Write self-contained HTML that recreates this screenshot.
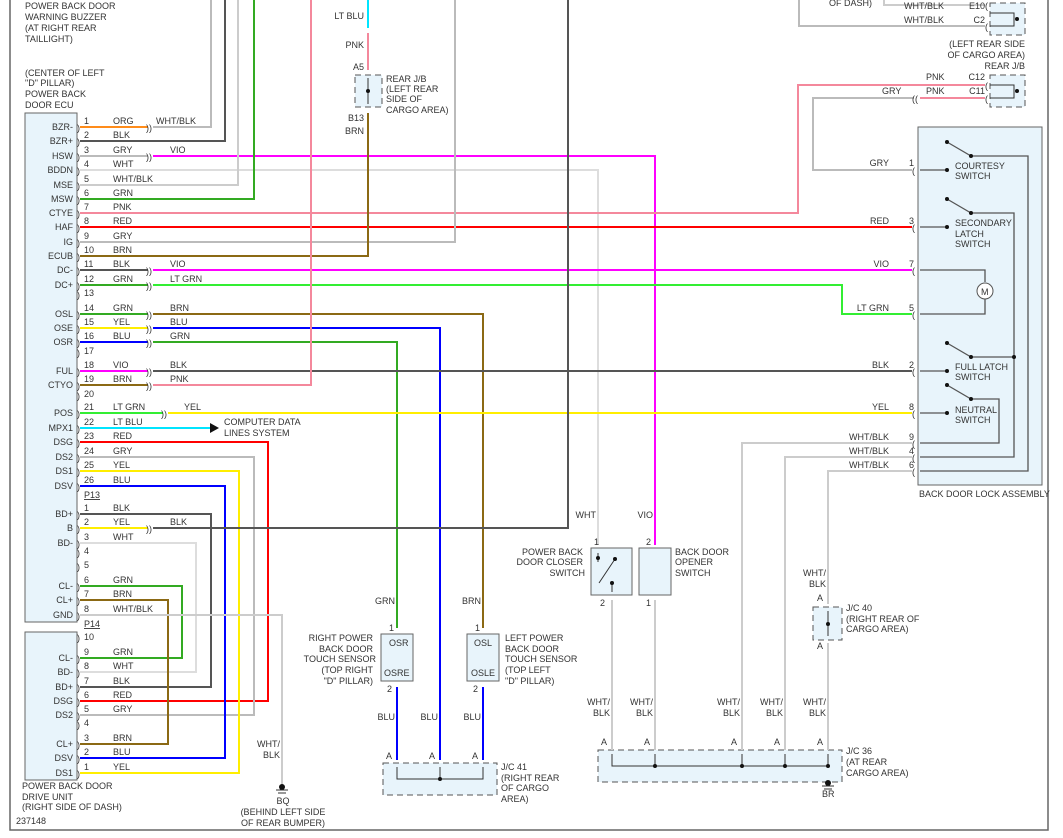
<!DOCTYPE html>
<html><head><meta charset="utf-8"><style>
html,body{margin:0;padding:0;background:#fff;width:1063px;height:838px;overflow:hidden}
svg{display:block}
text{font-family:"Liberation Sans",sans-serif;font-size:9px;fill:#333}
.w{fill:none;stroke-width:2}
</style></head><body>
<svg width="1063" height="838" viewBox="0 0 1063 838" xmlns="http://www.w3.org/2000/svg">
<!-- frame -->
<path d="M10,0 V830 H1048 V0" fill="none" stroke="#666" stroke-width="1.5"/>
<!-- boxes -->
<rect x="25" y="113" width="52" height="509" fill="#e8f4fb" stroke="#666"/>
<rect x="25" y="632" width="52" height="148" fill="#e8f4fb" stroke="#666"/>
<rect x="918" y="127" width="124" height="358" fill="#e8f4fb" stroke="#666"/>
<rect x="355" y="75" width="27" height="32" fill="#e8f4fb" stroke="#555" stroke-dasharray="6,4"/>
<rect x="990" y="3" width="35" height="32" fill="#e8f4fb" stroke="#555" stroke-dasharray="6,4"/>
<rect x="990" y="75" width="35" height="32" fill="#e8f4fb" stroke="#555" stroke-dasharray="6,4"/>
<rect x="591" y="548" width="41" height="47" fill="#e8f4fb" stroke="#666"/>
<rect x="639" y="548" width="32" height="47" fill="#e8f4fb" stroke="#666"/>
<rect x="381" y="634" width="32" height="47" fill="#e8f4fb" stroke="#666"/>
<rect x="467" y="634" width="32" height="47" fill="#e8f4fb" stroke="#666"/>
<rect x="383" y="763" width="114" height="32" fill="#e8f4fb" stroke="#555" stroke-dasharray="6,4"/>
<rect x="598" y="750" width="244" height="32" fill="#e8f4fb" stroke="#555" stroke-dasharray="6,4"/>
<rect x="813" y="607" width="29" height="33" fill="#e8f4fb" stroke="#555" stroke-dasharray="6,4"/>

<!-- wires -->
<g class="w">
<path d="M80,127 H148" stroke="#ff8c1a"/><path d="M153,127 H211 V0" stroke="#bbb"/>
<path d="M80,141 H225 V0" stroke="#555"/>
<path d="M80,156 H148" stroke="#bbb"/><path d="M153,156 H655 V545" stroke="#ff00ff"/>
<path d="M80,170 H598 V545" stroke="#ddd"/>
<path d="M80,185 H238 V0" stroke="#ccc"/>
<path d="M80,199 H254 V0" stroke="#33aa22"/>
<path d="M80,213 H798 V85 H985" stroke="#f4889c"/>
<path d="M80,227 H912" stroke="#ff0000"/>
<path d="M80,242 H455 V0" stroke="#bbb"/>
<path d="M80,256 H368 V113" stroke="#8b6914"/>
<path d="M80,270 H148" stroke="#555"/><path d="M153,270 H912" stroke="#ff00ff"/>
<path d="M80,285 H148" stroke="#33aa22"/><path d="M153,285 H842 V314 H912" stroke="#33ee33"/>
<path d="M80,314 H148" stroke="#33aa22"/><path d="M153,314 H483 V628" stroke="#8b6914"/>
<path d="M80,328 H148" stroke="#ffee00"/><path d="M153,328 H440 V760" stroke="#0000ff"/>
<path d="M80,342 H148" stroke="#0000ff"/><path d="M153,342 H397 V628" stroke="#33aa22"/>
<path d="M80,371 H148" stroke="#ff00ff"/><path d="M153,371 H912" stroke="#555"/>
<path d="M80,385 H148" stroke="#8b6914"/><path d="M153,385 H311 V0" stroke="#f4889c"/>
<path d="M80,413 H163" stroke="#33ee33"/><path d="M168,413 H912" stroke="#ffee00"/>
<path d="M80,428 H210" stroke="#00e5ff"/>
<path d="M80,442 H268 V701 H80" stroke="#ff0000"/>
<path d="M80,457 H254 V715 H80" stroke="#bbb"/>
<path d="M80,471 H239 V773 H80" stroke="#ffee00"/>
<path d="M80,486 H225 V758 H80" stroke="#0000ff"/>
<path d="M80,514 H211 V687 H80" stroke="#555"/>
<path d="M80,528 H148" stroke="#ffee00"/><path d="M153,528 H568 V0" stroke="#555"/>
<path d="M80,543 H196 V672 H80" stroke="#ddd"/>
<path d="M80,586 H182 V658 H80" stroke="#33aa22"/>
<path d="M80,600 H168 V744 H80" stroke="#8b6914"/>
<path d="M80,615 H282 V785" stroke="#ccc"/>
<path d="M368,0 V28" stroke="#00e5ff"/><path d="M368,33 V70" stroke="#f4889c"/>
<path d="M884,0 V5 H985" stroke="#ccc"/><path d="M799,0 V26 H985" stroke="#bbb"/>
<path d="M985,98 H920" stroke="#f4889c"/><path d="M914,98 H813 V170 H912" stroke="#bbb"/>
<path d="M612,600 V750" stroke="#ccc"/><path d="M655,600 V750" stroke="#ccc"/>
<path d="M912,443 H742 V750" stroke="#ccc"/>
<path d="M912,457 H785 V750" stroke="#ccc"/>
<path d="M912,471 H828 V604" stroke="#ccc"/><path d="M828,643 V750" stroke="#ccc"/>
<path d="M397,687 V760" stroke="#0000ff"/><path d="M483,687 V760" stroke="#0000ff"/>
</g>
<polygon points="210,423 219,428 210,433" fill="#111"/>

<!-- internals -->
<g fill="none" stroke="#333" stroke-width="1">
<path d="M368,78 V104 M990,13 H1014 V26 H990 M990,85 H1014 V98 H990"/>
<path d="M397,767 V779 H483 V767 M440,767 V779"/>
<path d="M612,754 V766 H828 V754 M655,754 V766 M742,754 V766 M785,754 V766"/>
<path d="M828,611 V636"/>
<path d="M598,553 V562 M599,583 L615,559 M612,583 V592"/>
</g>
<g fill="none" stroke="#555" stroke-width="1.3">
<path d="M920,170 H947 M947,142 L971,156 H1028 V471 H920"/>
<path d="M920,227 H947 M947,199 L971,213 H1014 V457 H920"/>
<path d="M920,371 H947 M947,343 L971,357 H1014"/>
<path d="M920,413 H947 M947,385 L971,399 H999 V443 H920"/>
<path d="M920,270 H985 V282 M985,299 V314 H920"/>
</g>
<circle cx="985" cy="291" r="8" fill="#fff" stroke="#555"/>
<text x="981" y="295">M</text>
<g fill="#111">
<circle cx="947" cy="142" r="2"/><circle cx="971" cy="156" r="2"/><circle cx="947" cy="170" r="2"/>
<circle cx="947" cy="199" r="2"/><circle cx="971" cy="213" r="2"/><circle cx="947" cy="227" r="2"/>
<circle cx="947" cy="343" r="2"/><circle cx="971" cy="357" r="2"/><circle cx="947" cy="371" r="2"/><circle cx="1014" cy="357" r="2"/>
<circle cx="947" cy="385" r="2"/><circle cx="971" cy="399" r="2"/><circle cx="947" cy="413" r="2"/>
<circle cx="368" cy="91" r="2"/><circle cx="1017" cy="19" r="2"/><circle cx="1017" cy="91" r="2"/>
<circle cx="440" cy="779" r="2"/><circle cx="655" cy="766" r="2"/><circle cx="742" cy="766" r="2"/><circle cx="785" cy="766" r="2"/><circle cx="828" cy="766" r="2"/>
<circle cx="828" cy="624" r="2"/><circle cx="598" cy="558" r="2"/><circle cx="615" cy="559" r="2"/><circle cx="612" cy="583" r="2"/>
<circle cx="828" cy="783" r="3"/><circle cx="282" cy="787" r="3"/>
</g>
<path d="M822,786 H834 M824,789 H832 M276,790 H288 M278,793 H286" stroke="#333"/>

<!-- connector marks -->
<g font-size="10">
<text x="77" y="131">)</text><text x="77" y="145">)</text><text x="77" y="160">)</text><text x="77" y="174">)</text><text x="77" y="189">)</text><text x="77" y="203">)</text><text x="77" y="217">)</text><text x="77" y="231">)</text><text x="77" y="246">)</text><text x="77" y="260">)</text><text x="77" y="274">)</text><text x="77" y="289">)</text><text x="77" y="298">)</text><text x="77" y="318">)</text><text x="77" y="332">)</text><text x="77" y="346">)</text><text x="77" y="356">)</text><text x="77" y="375">)</text><text x="77" y="389">)</text><text x="77" y="399">)</text><text x="77" y="417">)</text><text x="77" y="432">)</text><text x="77" y="446">)</text><text x="77" y="461">)</text><text x="77" y="475">)</text><text x="77" y="490">)</text><text x="77" y="518">)</text><text x="77" y="532">)</text><text x="77" y="547">)</text><text x="77" y="556">)</text><text x="77" y="570">)</text><text x="77" y="590">)</text><text x="77" y="604">)</text><text x="77" y="619">)</text>
<text x="77" y="641">)</text><text x="77" y="662">)</text><text x="77" y="676">)</text><text x="77" y="691">)</text><text x="77" y="705">)</text><text x="77" y="719">)</text><text x="77" y="728">)</text><text x="77" y="748">)</text><text x="77" y="762">)</text><text x="77" y="777">)</text>
<text x="146" y="131">))</text><text x="146" y="160">))</text><text x="146" y="274">))</text><text x="146" y="289">))</text><text x="146" y="318">))</text><text x="146" y="332">))</text><text x="146" y="346">))</text><text x="146" y="375">))</text><text x="146" y="389">))</text><text x="161" y="417">))</text><text x="146" y="532">))</text>
<text x="912" y="102">((</text>
<text x="912" y="174">(</text><text x="912" y="231">(</text><text x="912" y="274">(</text><text x="912" y="318">(</text><text x="912" y="375">(</text><text x="912" y="417">(</text><text x="912" y="447">(</text><text x="912" y="461">(</text><text x="912" y="475">(</text>
<text x="985" y="9">(</text><text x="985" y="30">(</text><text x="985" y="89">(</text><text x="985" y="102">(</text>
</g>

<!-- ECU labels -->
<g text-anchor="end">
<text x="73" y="130">BZR-</text><text x="73" y="144">BZR+</text><text x="73" y="159">HSW</text><text x="73" y="173">BDDN</text><text x="73" y="188">MSE</text><text x="73" y="202">MSW</text><text x="73" y="216">CTYE</text><text x="73" y="230">HAF</text><text x="73" y="245">IG</text><text x="73" y="259">ECUB</text><text x="73" y="273">DC-</text><text x="73" y="288">DC+</text><text x="73" y="317">OSL</text><text x="73" y="331">OSE</text><text x="73" y="345">OSR</text><text x="73" y="374">FUL</text><text x="73" y="388">CTYO</text><text x="73" y="416">POS</text><text x="73" y="431">MPX1</text><text x="73" y="445">DSG</text><text x="73" y="460">DS2</text><text x="73" y="474">DS1</text><text x="73" y="489">DSV</text><text x="73" y="517">BD+</text><text x="73" y="531">B</text><text x="73" y="546">BD-</text><text x="73" y="589">CL-</text><text x="73" y="603">CL+</text><text x="73" y="618">GND</text>
<text x="73" y="661">CL-</text><text x="73" y="675">BD-</text><text x="73" y="690">BD+</text><text x="73" y="704">DSG</text><text x="73" y="718">DS2</text><text x="73" y="747">CL+</text><text x="73" y="761">DSV</text><text x="73" y="776">DS1</text>
</g>
<!-- pin numbers -->
<g>
<text x="84" y="124">1</text><text x="84" y="138">2</text><text x="84" y="153">3</text><text x="84" y="167">4</text><text x="84" y="182">5</text><text x="84" y="196">6</text><text x="84" y="210">7</text><text x="84" y="224">8</text><text x="84" y="239">9</text><text x="84" y="253">10</text><text x="84" y="267">11</text><text x="84" y="282">12</text><text x="84" y="296">13</text><text x="84" y="311">14</text><text x="84" y="325">15</text><text x="84" y="339">16</text><text x="84" y="354">17</text><text x="84" y="368">18</text><text x="84" y="382">19</text><text x="84" y="397">20</text><text x="84" y="410">21</text><text x="84" y="425">22</text><text x="84" y="439">23</text><text x="84" y="454">24</text><text x="84" y="468">25</text><text x="84" y="483">26</text>
<text x="84" y="511">1</text><text x="84" y="525">2</text><text x="84" y="540">3</text><text x="84" y="554">4</text><text x="84" y="568">5</text><text x="84" y="583">6</text><text x="84" y="597">7</text><text x="84" y="612">8</text>
<text x="84" y="640">10</text><text x="84" y="655">9</text><text x="84" y="669">8</text><text x="84" y="684">7</text><text x="84" y="698">6</text><text x="84" y="712">5</text><text x="84" y="726">4</text><text x="84" y="741">3</text><text x="84" y="755">2</text><text x="84" y="770">1</text>
<text x="84" y="498" text-decoration="underline">P13</text><text x="84" y="627" text-decoration="underline">P14</text>
</g>
<!-- wire color labels -->
<g>
<text x="113" y="124">ORG</text><text x="156" y="124">WHT/BLK</text>
<text x="113" y="138">BLK</text>
<text x="113" y="153">GRY</text><text x="170" y="153">VIO</text>
<text x="113" y="167">WHT</text><text x="113" y="182">WHT/BLK</text><text x="113" y="196">GRN</text><text x="113" y="210">PNK</text><text x="113" y="224">RED</text><text x="113" y="239">GRY</text><text x="113" y="253">BRN</text>
<text x="113" y="267">BLK</text><text x="170" y="267">VIO</text>
<text x="113" y="282">GRN</text><text x="170" y="282">LT GRN</text>
<text x="113" y="311">GRN</text><text x="170" y="311">BRN</text>
<text x="113" y="325">YEL</text><text x="170" y="325">BLU</text>
<text x="113" y="339">BLU</text><text x="170" y="339">GRN</text>
<text x="113" y="368">VIO</text><text x="170" y="368">BLK</text>
<text x="113" y="382">BRN</text><text x="170" y="382">PNK</text>
<text x="113" y="410">LT GRN</text><text x="184" y="410">YEL</text>
<text x="113" y="425">LT BLU</text>
<text x="224" y="425">COMPUTER DATA</text><text x="224" y="436">LINES SYSTEM</text>
<text x="113" y="439">RED</text><text x="113" y="454">GRY</text><text x="113" y="468">YEL</text><text x="113" y="483">BLU</text>
<text x="113" y="511">BLK</text><text x="113" y="525">YEL</text><text x="170" y="525">BLK</text><text x="113" y="540">WHT</text>
<text x="113" y="583">GRN</text><text x="113" y="597">BRN</text><text x="113" y="612">WHT/BLK</text>
<text x="113" y="655">GRN</text><text x="113" y="669">WHT</text><text x="113" y="684">BLK</text><text x="113" y="698">RED</text><text x="113" y="712">GRY</text><text x="113" y="741">BRN</text><text x="113" y="755">BLU</text><text x="113" y="770">YEL</text>
</g>
<!-- component labels -->
<text x="25" y="9">POWER BACK DOOR</text><text x="25" y="20">WARNING BUZZER</text><text x="25" y="31">(AT RIGHT REAR</text><text x="25" y="42">TAILLIGHT)</text>
<text x="25" y="76">(CENTER OF LEFT</text><text x="25" y="86">"D" PILLAR)</text><text x="25" y="97">POWER BACK</text><text x="25" y="108">DOOR ECU</text>
<text x="22" y="789">POWER BACK DOOR</text><text x="22" y="800">DRIVE UNIT</text><text x="22" y="810">(RIGHT SIDE OF DASH)</text>
<text x="16" y="824">237148</text>
<g text-anchor="middle"><text x="283" y="804">BQ</text><text x="283" y="815">(BEHIND LEFT SIDE</text><text x="283" y="826">OF REAR BUMPER)</text></g>
<text x="364" y="19" text-anchor="end">LT BLU</text><text x="364" y="48" text-anchor="end">PNK</text>
<text x="364" y="70" text-anchor="end">A5</text><text x="364" y="121" text-anchor="end">B13</text><text x="364" y="134" text-anchor="end">BRN</text>
<text x="386" y="82">REAR J/B</text><text x="386" y="92">(LEFT REAR</text><text x="386" y="102">SIDE OF</text><text x="386" y="113">CARGO AREA)</text>
<text x="872" y="6" text-anchor="end">OF DASH)</text>
<text x="904" y="9">WHT/BLK</text><text x="904" y="23">WHT/BLK</text>
<text x="985" y="9" text-anchor="end">E10</text><text x="985" y="23" text-anchor="end">C2</text>
<g text-anchor="end"><text x="1025" y="47">(LEFT REAR SIDE</text><text x="1025" y="58">OF CARGO AREA)</text><text x="1025" y="69">REAR J/B</text></g>
<text x="926" y="80">PNK</text><text x="926" y="94">PNK</text><text x="882" y="94">GRY</text>
<text x="985" y="80" text-anchor="end">C12</text><text x="985" y="94" text-anchor="end">C11</text>
<g text-anchor="end">
<text x="889" y="166">GRY</text><text x="889" y="224">RED</text><text x="889" y="267">VIO</text><text x="889" y="311">LT GRN</text><text x="889" y="368">BLK</text><text x="889" y="410">YEL</text><text x="889" y="440">WHT/BLK</text><text x="889" y="454">WHT/BLK</text><text x="889" y="468">WHT/BLK</text>
<text x="914" y="166">1</text><text x="914" y="224">3</text><text x="914" y="267">7</text><text x="914" y="311">5</text><text x="914" y="368">2</text><text x="914" y="410">8</text><text x="914" y="440">9</text><text x="914" y="454">4</text><text x="914" y="468">6</text>
</g>
<text x="955" y="169">COURTESY</text><text x="955" y="179">SWITCH</text>
<text x="955" y="226">SECONDARY</text><text x="955" y="237">LATCH</text><text x="955" y="247">SWITCH</text>
<text x="955" y="370">FULL LATCH</text><text x="955" y="380">SWITCH</text>
<text x="955" y="413">NEUTRAL</text><text x="955" y="423">SWITCH</text>
<text x="919" y="497">BACK DOOR LOCK ASSEMBLY</text>
<text x="596" y="518" text-anchor="end">WHT</text><text x="653" y="518" text-anchor="end">VIO</text>
<text x="594" y="545">1</text><text x="646" y="545">2</text><text x="600" y="606">2</text><text x="646" y="606">1</text>
<g text-anchor="end"><text x="583" y="555">POWER BACK</text><text x="583" y="565">DOOR CLOSER</text><text x="585" y="576">SWITCH</text></g>
<text x="675" y="555">BACK DOOR</text><text x="675" y="565">OPENER</text><text x="675" y="576">SWITCH</text>
<text x="395" y="604" text-anchor="end">GRN</text><text x="481" y="604" text-anchor="end">BRN</text>
<text x="389" y="631">1</text><text x="475" y="631">1</text><text x="387" y="692">2</text><text x="473" y="692">2</text>
<text x="389" y="646">OSR</text><text x="384" y="676">OSRE</text><text x="474" y="646">OSL</text><text x="471" y="676">OSLE</text>
<g text-anchor="end"><text x="373" y="641">RIGHT POWER</text><text x="373" y="652">BACK DOOR</text><text x="376" y="662">TOUCH SENSOR</text><text x="373" y="673">(TOP RIGHT</text><text x="373" y="684">"D" PILLAR)</text></g>
<text x="505" y="641">LEFT POWER</text><text x="505" y="652">BACK DOOR</text><text x="505" y="662">TOUCH SENSOR</text><text x="505" y="673">(TOP LEFT</text><text x="505" y="684">"D" PILLAR)</text>
<text x="395" y="720" text-anchor="end">BLU</text><text x="438" y="720" text-anchor="end">BLU</text><text x="481" y="720" text-anchor="end">BLU</text>
<text x="386" y="759">A</text><text x="429" y="759">A</text><text x="472" y="759">A</text>
<text x="501" y="770">J/C 41</text><text x="501" y="781">(RIGHT REAR</text><text x="501" y="791">OF CARGO</text><text x="501" y="802">AREA)</text>
<g text-anchor="end">
<text x="610" y="705">WHT/</text><text x="610" y="716">BLK</text><text x="653" y="705">WHT/</text><text x="653" y="716">BLK</text><text x="740" y="705">WHT/</text><text x="740" y="716">BLK</text><text x="783" y="705">WHT/</text><text x="783" y="716">BLK</text><text x="826" y="705">WHT/</text><text x="826" y="716">BLK</text>
<text x="826" y="576">WHT/</text><text x="826" y="587">BLK</text>
<text x="280" y="747">WHT/</text><text x="280" y="758">BLK</text>
</g>
<text x="601" y="745">A</text><text x="644" y="745">A</text><text x="731" y="745">A</text><text x="774" y="745">A</text><text x="817" y="745">A</text>
<text x="817" y="601">A</text><text x="817" y="649">A</text>
<text x="846" y="611">J/C 40</text><text x="846" y="622">(RIGHT REAR OF</text><text x="846" y="632">CARGO AREA)</text>
<text x="846" y="754">J/C 36</text><text x="846" y="765">(AT REAR</text><text x="846" y="776">CARGO AREA)</text>
<text x="822" y="797">BR</text>
</svg>
</body></html>
